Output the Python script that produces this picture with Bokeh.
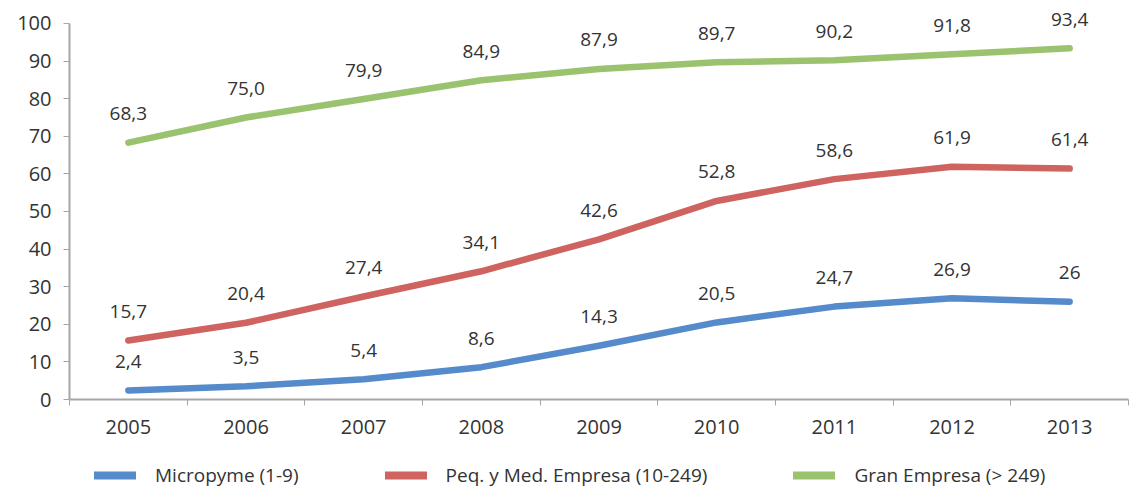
from bokeh.plotting import figure
from bokeh.models import ColumnDataSource, FixedTicker, Legend, LegendItem, Range1d
from bokeh.layouts import column
from bokeh.embed import file_html
from bokeh.resources import INLINE

years = ["2005", "2006", "2007", "2008", "2009", "2010", "2011", "2012", "2013"]
micro = [2.4, 3.5, 5.4, 8.6, 14.3, 20.5, 24.7, 26.9, 26]
pyme = [15.7, 20.4, 27.4, 34.1, 42.6, 52.8, 58.6, 61.9, 61.4]
gran = [68.3, 75.0, 79.9, 84.9, 87.9, 89.7, 90.2, 91.8, 93.4]
micro_lbl = ["2,4", "3,5", "5,4", "8,6", "14,3", "20,5", "24,7", "26,9", "26"]
pyme_lbl = ["15,7", "20,4", "27,4", "34,1", "42,6", "52,8", "58,6", "61,9", "61,4"]
gran_lbl = ["68,3", "75,0", "79,9", "84,9", "87,9", "89,7", "90,2", "91,8", "93,4"]
names = ["Micropyme (1-9)", "Peq. y Med. Empresa (10-249)", "Gran Empresa (> 249)"]
colors = ["#558ACB", "#CF6360", "#9BC26E"]

FONT = "Open Sans"
TXT = "#333333"
AX = "#A6A6A6"

xs = list(range(len(years)))
series = [(micro, micro_lbl, colors[0]), (pyme, pyme_lbl, colors[1]), (gran, gran_lbl, colors[2])]

p = figure(width=1130, height=450, output_backend="svg", toolbar_location=None,
           x_range=Range1d(-0.5, len(years) - 0.5), y_range=Range1d(0, 106.1),
           min_border_left=69, min_border_right=2, min_border_top=0, min_border_bottom=51)
p.outline_line_color = None
p.xgrid.visible = False
p.ygrid.visible = False
p.background_fill_color = "white"

# x axis
p.xaxis.ticker = FixedTicker(ticks=xs, minor_ticks=[i - 0.5 for i in range(len(years) + 1)])
p.xaxis.major_label_overrides = {i: y for i, y in enumerate(years)}
p.xaxis.major_tick_out = 0
p.xaxis.major_tick_in = 0
p.xaxis.minor_tick_out = 6
p.xaxis.minor_tick_in = 0
p.xaxis.minor_tick_line_color = AX
p.xaxis.axis_line_color = AX
p.xaxis.axis_line_width = 2
p.xaxis.major_label_standoff = 14
p.xaxis.major_label_text_font = FONT
p.xaxis.major_label_text_font_size = "20px"
p.xaxis.major_label_text_color = TXT

# y axis
p.yaxis.ticker = FixedTicker(ticks=list(range(0, 101, 10)), minor_ticks=[])
p.yaxis.bounds = (0, 100)
p.yaxis.major_tick_out = 6
p.yaxis.major_tick_in = 0
p.yaxis.major_tick_line_color = AX
p.yaxis.axis_line_color = AX
p.yaxis.axis_line_width = 2
p.yaxis.major_label_standoff = 12
p.yaxis.major_label_text_font = FONT
p.yaxis.major_label_text_font_size = "20px"
p.yaxis.major_label_text_color = TXT

for vals, lbls, col in series:
    src = ColumnDataSource(dict(x=xs, y=vals, t=lbls))
    p.line("x", "y", source=src, line_color=col, line_width=6.5,
           line_cap="round", line_join="round")
    p.text("x", "y", text="t", source=src, text_align="center", text_baseline="middle",
           y_offset=-29, text_font_size="19px", text_color=TXT,
           text_font={"value": FONT})

# legend strip (series drawn out of view, only their legend glyphs show)
lg = figure(width=1130, height=38, output_backend="svg", toolbar_location=None,
            x_range=Range1d(0, 1), y_range=Range1d(-300, -200),
            min_border_left=69, min_border_right=2, min_border_top=0, min_border_bottom=0)
lg.outline_line_color = None
lg.axis.visible = False
lg.grid.visible = False
items = []
for name, (vals, lbls, col) in zip(names, series):
    r = lg.line(x=xs, y=vals, line_color=col, line_width=8, line_cap="round")
    items.append(LegendItem(label=name, renderers=[r]))
legend = Legend(items=items, orientation="horizontal", location=(25, 0),
                glyph_width=42, glyph_height=20, label_standoff=19, spacing=86,
                label_text_font=FONT, label_text_font_size="19px", label_text_color=TXT,
                border_line_color=None, background_fill_alpha=0, margin=0,
                padding=0)
lg.add_layout(legend, "center")

layout = column(p, lg, spacing=0)
open("out.html", "w").write(file_html(layout, INLINE))
